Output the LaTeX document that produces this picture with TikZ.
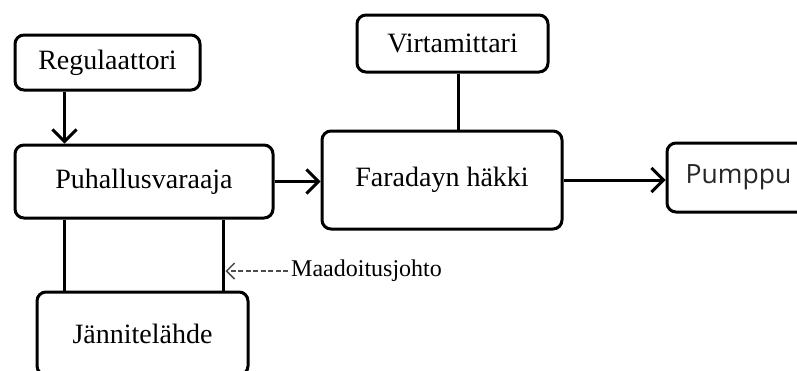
\documentclass[tikz,border=0pt]{standalone}
\usepackage{fontspec}
\setmainfont{Liberation Serif}
\newfontfamily\pumpfont{Open Sans}
\usetikzlibrary{arrows.meta}
\begin{document}
\begin{tikzpicture}[x=1pt,y=-1pt,
  blk/.style={draw, line width=3pt, rounded corners=9pt, inner sep=0pt,
    font=\fontsize{28}{30}\selectfont},
  wire/.style={line width=3pt},
  arr/.style={line width=3pt, -{Straight Barb[length=12pt,width=24pt,line width=3pt]}},
  gnd/.style={line width=1.5pt, draw=black!70, dash pattern=on 5pt off 2.5pt,
    -{Straight Barb[length=8pt,width=16pt,line width=1.5pt]}}]
\useasboundingbox (0,0) rectangle (797,370);
\clip (0,0) rectangle (797,370);
\fill[white] (0,0) rectangle (797,370);

\node[blk, minimum width=185pt, minimum height=55pt] (reg) at (107.5,62.5) {Regulaattori};
\node[blk, minimum width=258pt, minimum height=73pt] (puh) at (144,181.5) {Puhallusvaraaja};
\node[blk, minimum width=211pt, minimum height=83pt] (jan) at (142.5,333.5) {Jännitelähde};
\node[blk, minimum width=191pt, minimum height=57pt] (vir) at (452.5,43.5) {Virtamittari};
\node[blk, minimum width=240pt, minimum height=98pt] (far) at (442,180) {\raisebox{6pt}{Faradayn häkki}};
\node[blk, minimum width=143pt, minimum height=69pt, font=\pumpfont\fontsize{26.5}{30}\selectfont, text=black!85] (pum) at (738.5,177.5) {Pumppu};

\draw[arr] ([xshift=51pt]reg.south west) -- ([xshift=51pt]puh.north west);
\draw[arr] (puh.east) -- (puh.east -| far.west);
\draw[arr] (far.east) -- (far.east -| pum.west);
\coordinate (vm) at ([xshift=5.5pt]vir.south);
\draw[wire] (vm) -- (vm |- far.north);

\coordinate (pl) at ([xshift=51pt]puh.south west);
\coordinate (pr) at ([xshift=210pt]puh.south west);
\draw[wire] (pl) -- (pl |- jan.north);
\draw[wire] (pr) -- (pr |- jan.north);

\node[anchor=west, inner sep=0pt, font=\fontsize{24}{28}\selectfont] (lab) at (291,271) {Maadoitusjohto};
\draw[gnd] ([xshift=-3pt]lab.west) -- ([xshift=2pt]pr |- lab.west);
\end{tikzpicture}
\end{document}
